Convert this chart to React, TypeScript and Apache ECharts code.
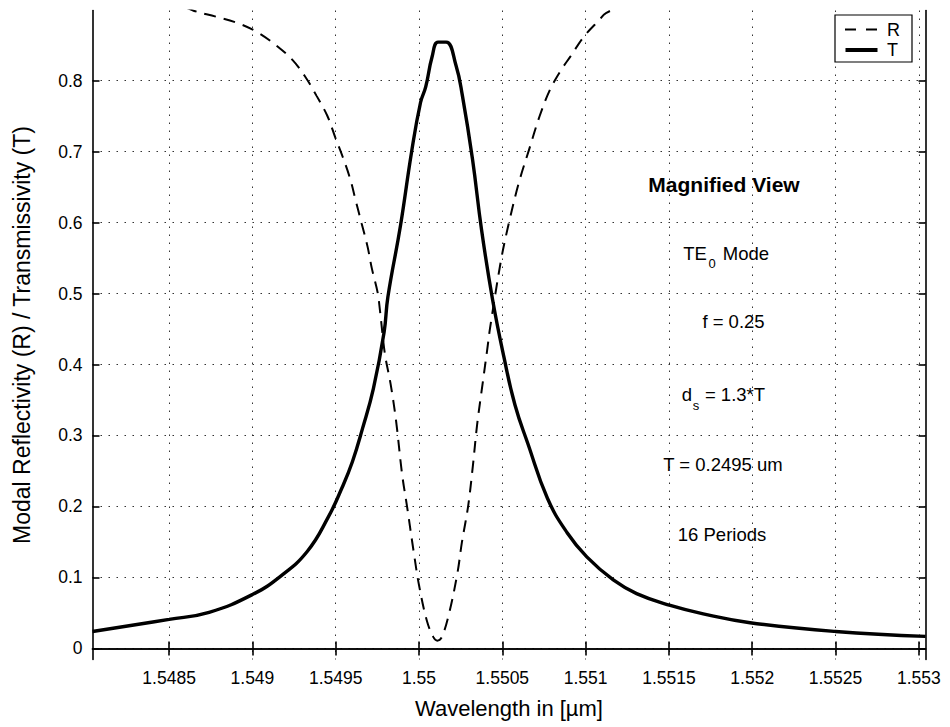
import React, { useEffect, useRef } from "react";
import * as echarts from "echarts";

// ---- data ----
const X_TICKS = [1.5485, 1.549, 1.5495, 1.55, 1.5505, 1.551, 1.5515, 1.552, 1.5525, 1.553];
const Y_TICKS = [0, 0.1, 0.2, 0.3, 0.4, 0.5, 0.6, 0.7, 0.8];

const R_WAVELENGTH = [
  1.54804, 1.5483, 1.5486, 1.54865, 1.54878, 1.54891, 1.54903, 1.54914, 1.54924, 1.549315,
  1.549386, 1.54945, 1.549497, 1.549541, 1.549586, 1.549622, 1.549655, 1.549691, 1.549717, 1.549751,
  1.549766, 1.549795, 1.549829, 1.549862, 1.549898, 1.54993, 1.549968, 1.55, 1.550047, 1.550086,
  1.55011, 1.550137, 1.550182, 1.550231, 1.550257, 1.550295, 1.550323, 1.550349, 1.550381, 1.550411,
  1.550426, 1.550493, 1.55054, 1.550599, 1.550661, 1.550724, 1.550786, 1.550848, 1.550909, 1.55099,
  1.551081, 1.551122, 1.5513, 1.5518, 1.5525, 1.55304,
];
const R_VALUES = [
  0.955, 0.935, 0.903, 0.898, 0.89, 0.881, 0.868, 0.85, 0.829, 0.806,
  0.778, 0.75, 0.72, 0.693, 0.662, 0.629, 0.599, 0.566, 0.535, 0.502,
  0.475, 0.415, 0.373, 0.321, 0.246, 0.197, 0.136, 0.089, 0.039, 0.016,
  0.011, 0.016, 0.051, 0.107, 0.149, 0.201, 0.257, 0.316, 0.372, 0.424,
  0.451, 0.548, 0.6, 0.656, 0.703, 0.75, 0.787, 0.813, 0.834, 0.862,
  0.885, 0.895, 0.912, 0.935, 0.95, 0.958,
];

const T_WAVELENGTH = [
  1.54804, 1.5485, 1.54874, 1.549, 1.54917, 1.54933, 1.549455, 1.549537, 1.5496, 1.549661,
  1.549726, 1.54979, 1.549813, 1.549889, 1.549955, 1.550009, 1.55004, 1.550078, 1.550114, 1.550163,
  1.550222, 1.55026, 1.550321, 1.550375, 1.550441, 1.55051, 1.550576, 1.550654, 1.55077, 1.550889,
  1.551007, 1.551166, 1.551306, 1.551508, 1.551706, 1.551987, 1.5525, 1.55304,
];
const T_VALUES = [
  0.024, 0.041, 0.051, 0.076, 0.102, 0.137, 0.185, 0.226, 0.263, 0.31,
  0.366, 0.445, 0.495, 0.596, 0.699, 0.769, 0.791, 0.833, 0.854, 0.854,
  0.821, 0.779, 0.689, 0.59, 0.492, 0.41, 0.343, 0.288, 0.212, 0.163,
  0.129, 0.0965, 0.0773, 0.0606, 0.0487, 0.0363, 0.024, 0.017,
];

const SERIES_NAMES = ["R", "T"];
const X_TITLE = "Wavelength in [µm]";
const Y_TITLE = "Modal Reflectivity (R) / Transmissivity (T)";

const FONT = '"Liberation Sans", Arial, Helvetica, sans-serif';
const INK = "#000";

function pairs(xs: number[], ys: number[]) {
  return xs.map((x, i) => [x, ys[i]]);
}

export default function App() {
  const ref = useRef<HTMLDivElement>(null);

  useEffect(() => {
    if (!ref.current) return;
    const chart = echarts.init(ref.current, undefined, { renderer: "svg" });

    const axisLine = { show: true, lineStyle: { color: INK, width: 1.6 } };
    const tickStyle = { color: INK, width: 1.6 };
    const gridLine = { show: true, lineStyle: { color: "#333", width: 1, type: [1.5, 6.5] as any } };

    const annText = (x: number, y: number, text: string, size = 18.5, weight: any = "normal", align: any = "center") => ({
      type: "text",
      x,
      y,
      z: 100,
      style: {
        text,
        fill: INK,
        font: `${weight} ${size}px ${FONT}`,
        align,
        verticalAlign: "middle",
      },
    });

    const option: any = {
      animation: false,
      backgroundColor: "#ffffff",
      grid: { left: 92.5, right: 24.5, top: 10.5, bottom: 67.5, containLabel: false },
      xAxis: [
        {
          type: "value",
          position: "bottom",
          min: 1.54804,
          max: 1.55304,
          name: X_TITLE,
          nameLocation: "middle",
          nameGap: 38,
          nameTextStyle: { color: INK, fontSize: 22, fontFamily: FONT },
          axisLine,
          axisTick: { show: true, inside: true, length: 7, customValues: X_TICKS, lineStyle: tickStyle },
          axisLabel: {
            customValues: X_TICKS,
            color: INK,
            fontSize: 17.5,
            fontFamily: FONT,
            margin: 9,
            formatter: (v: number) => String(+v.toFixed(4)),
          },
          splitLine: gridLine,
        },
        {
          type: "value",
          position: "top",
          min: 1.54804,
          max: 1.55304,
          axisLine,
          axisTick: { show: true, inside: true, length: 7, customValues: X_TICKS, lineStyle: tickStyle },
          axisLabel: { show: false },
          splitLine: { show: false },
        },
      ],
      yAxis: [
        {
          type: "value",
          position: "left",
          min: -0.0155,
          max: 0.8986,
          name: Y_TITLE,
          nameLocation: "middle",
          nameGap: 59,
          nameTextStyle: { color: INK, fontSize: 23, fontFamily: FONT },
          axisLine,
          axisTick: { show: true, inside: true, length: 7, customValues: Y_TICKS, lineStyle: tickStyle },
          axisLabel: {
            customValues: Y_TICKS,
            color: INK,
            fontSize: 17.5,
            fontFamily: FONT,
            margin: 10,
            formatter: (v: number) => (Math.abs(v) < 1e-9 ? "0" : String(+v.toFixed(1))),
          },
          splitLine: gridLine,
        },
        {
          type: "value",
          position: "right",
          min: -0.0155,
          max: 0.8986,
          axisLine,
          axisTick: { show: true, inside: true, length: 7, customValues: Y_TICKS, lineStyle: tickStyle },
          axisLabel: { show: false },
          splitLine: { show: false },
        },
      ],
      series: [
        {
          type: "line",
          name: SERIES_NAMES[0],
          xAxisIndex: 0,
          yAxisIndex: 0,
          data: pairs(R_WAVELENGTH, R_VALUES),
          symbol: "none",
          clip: true,
          smooth: 0.35,
          lineStyle: { color: INK, width: 2, type: [12, 8] },
          z: 3,
        },
        {
          type: "line",
          name: SERIES_NAMES[1],
          xAxisIndex: 0,
          yAxisIndex: 0,
          data: pairs(T_WAVELENGTH, T_VALUES),
          symbol: "none",
          clip: true,
          smooth: 0.45,
          lineStyle: { color: INK, width: 3.4, type: "solid" },
          z: 4,
        },
      ],
      graphic: [
        // legend box
        {
          type: "rect",
          z: 100,
          shape: { x: 835, y: 15, width: 77, height: 47 },
          style: { fill: "#fff", stroke: INK, lineWidth: 1.2 },
        },
        {
          type: "line",
          z: 101,
          shape: { x1: 845, y1: 29.5, x2: 877.5, y2: 29.5 },
          style: { stroke: INK, lineWidth: 2, lineDash: [11, 10] },
        },
        {
          type: "line",
          z: 101,
          shape: { x1: 845.5, y1: 50, x2: 877.5, y2: 50 },
          style: { stroke: INK, lineWidth: 4 },
        },
        annText(887, 30, SERIES_NAMES[0], 18, "normal", "left"),
        annText(887, 50, SERIES_NAMES[1], 18, "normal", "left"),
        // annotations
        annText(724, 184, "Magnified View", 21, "bold"),
        annText(695, 253, "TE", 18.5, "normal", "center"),
        annText(712, 263, "0", 13, "normal", "center"),
        annText(746, 253, "Mode", 18.5, "normal", "center"),
        annText(733.5, 321, "f = 0.25", 18.5),
        annText(687, 394, "d", 18.5, "normal", "center"),
        annText(696, 405, "s", 13, "normal", "center"),
        annText(735, 394, "= 1.3*T", 18.5, "normal", "center"),
        annText(723, 464, "T = 0.2495 um", 18.5),
        annText(722, 534, "16 Periods", 18.5),
      ],
    };

    chart.setOption(option);
    return () => chart.dispose();
  }, []);

  return (
    <div
      ref={ref}
      style={{ position: "absolute", left: 0, top: 0, width: 950, height: 727, background: "#fff" }}
    />
  );
}
